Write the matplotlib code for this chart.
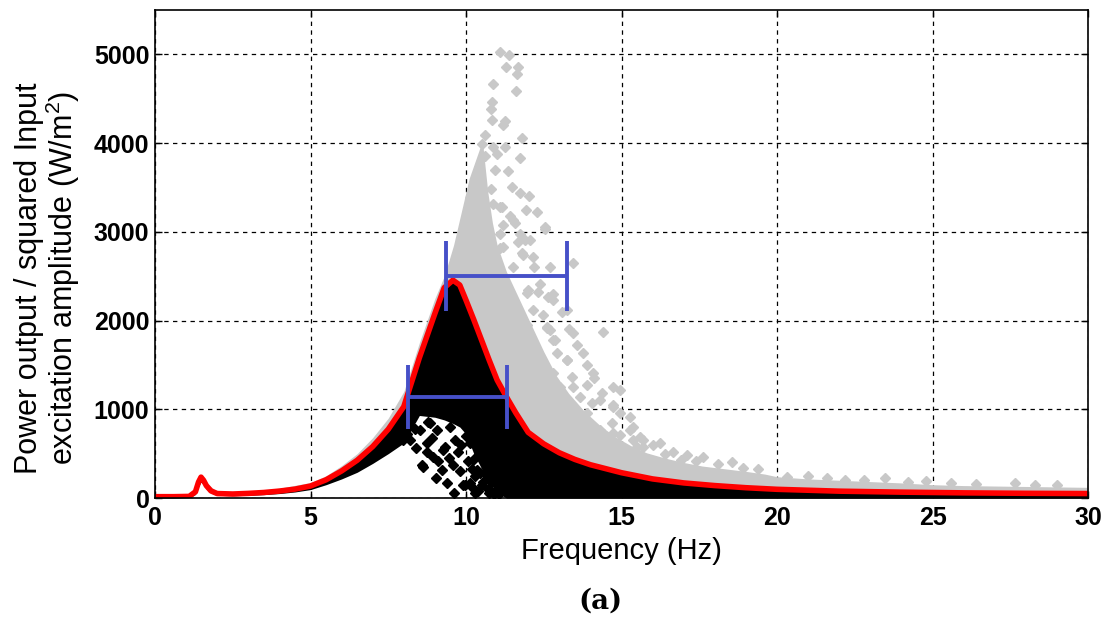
import matplotlib
matplotlib.use("Agg")
import matplotlib.pyplot as plt

# ---- measured response (red curve) ----
resp_freq = [0, 0.6, 1.1, 1.3, 1.4, 1.48, 1.56, 1.65, 1.8, 2.0, 2.5, 3, 3.5, 4, 4.5, 5,
             5.5, 6, 6.5, 7, 7.5, 8, 8.5, 9, 9.3, 9.58, 9.8, 10, 10.25, 10.5, 10.75, 11,
             11.3, 11.6, 12, 12.5, 13, 13.5, 14, 15, 16, 17, 18, 19, 20, 22, 24, 26, 28, 30]
resp_power = [15, 15, 18, 70, 180, 235, 200, 140, 80, 50, 45, 52, 62, 78, 100, 135,
              205, 305, 425, 580, 775, 1030, 1580, 2080, 2370, 2455, 2400, 2230, 2010, 1780, 1550, 1330,
              1140, 960, 740, 610, 510, 435, 375, 285, 215, 170, 140, 116, 98, 77, 66, 58, 53, 50]
# lower edge of the dense black cloud, on the same frequency grid
black_floor = [0, 0, 5, 40, 130, 180, 150, 100, 55, 30, 25, 30, 38, 50, 68, 95,
               150, 215, 290, 390, 500, 620, 930, 910, 880, 840, 800, 720, 500, 330, 180, 60,
               0, 0, 0, 0, 0, 0, 0, 0, 0, 0, 0, 0, 0, 0, 0, 0, 0, 0]

# ---- dense grey cloud envelope ----
gray_band_freq = [0, 1.2, 1.4, 1.5, 1.65, 2, 3, 4, 5, 5.5, 6, 6.5, 7, 7.5, 8, 8.5, 9, 9.3, 9.6, 9.9,
                  10.1, 10.3, 10.45, 10.55, 10.7, 10.85, 11.0, 11.3, 11.7, 12.1, 12.5, 12.9, 13.3, 13.8,
                  14.3, 14.8, 15.3, 15.8, 16.4, 17, 17.6, 18.3, 19, 19.6, 20, 21, 22, 23, 24, 25, 26,
                  27, 28, 29, 30]
gray_band_top = [25, 30, 230, 270, 170, 70, 75, 110, 175, 250, 365, 500, 680, 900, 1200, 1750, 2250,
                 2500, 2850, 3300, 3600, 3800, 3950, 3950, 3450, 3100, 2850, 2550, 2250, 1950, 1650,
                 1380, 1180, 980, 820, 690, 590, 510, 450, 400, 360, 330, 300, 270, 240, 215, 200,
                 185, 170, 150, 140, 135, 130, 125, 120]
gray_band_bottom = [0, 0, 150, 180, 120, 40, 45, 70, 120, 190, 280, 400, 550, 740, 980, 1450, 1900,
                    2000, 2000, 1900, 1800, 1700, 1600, 1500, 1400, 1300, 1200, 0, 0, 0, 0, 0, 0, 0,
                    0, 0, 0, 0, 0, 0, 0, 0, 0, 0, 0, 0, 0, 0, 0, 0, 0, 0, 0, 0, 0]

# ---- scattered grey samples ----
gray_pts_freq = [11.09, 11.38, 11.29, 11.68, 11.65, 10.88, 11.61, 10.85, 10.79, 10.83, 11.25, 11.2,
                 10.61, 11.79, 10.5, 10.88, 11.25, 10.61, 11.01, 11.74, 10.43, 10.93, 11.36, 10.34,
                 10.79, 11.47, 11.74, 12.04, 10.88, 11.15, 11.93, 12.27, 11.41, 11.58, 11.2, 12.54,
                 10.56, 11.09, 11.68, 11.9, 10.54, 11.79, 11.09, 13.45, 12.54, 11.84, 12.0, 12.33,
                 12.65, 12.49, 11.63, 11.95, 12.59, 12.7, 12.86, 12.0, 13.24, 13.56, 14.42, 13.4,
                 13.88, 12.92, 12.38, 13.02, 13.67, 14.36, 14.04, 14.74, 14.95, 15.27, 15.27, 15.59,
                 16.02, 16.24, 14.68, 14.74, 15.7, 14.95, 15.38, 16.67, 17.1, 17.63, 18.54, 20.31,
                 22.19, 23.47, 24.2, 24.8, 27.65, 29.0, 12.2, 13.1, 12.8, 13.9, 14.1, 13.3,
                 10.50, 11.09, 11.52, 11.74, 12.06, 10.66, 11.2, 12.16, 12.7, 11.52, 12.38, 11.95,
                 12.81, 13.24, 11.31, 12.16, 12.59, 13.45, 11.74, 12.81, 13.77, 12.16, 13.24, 14.09,
                 14.74, 12.81, 13.45, 14.31, 14.95, 15.38, 13.88, 14.74, 15.49, 14.31, 15.17, 15.7,
                 16.4, 16.9, 17.4, 18.1, 18.9, 19.4, 21.0, 21.6, 22.8, 25.6, 26.4, 28.3]
gray_pts_power = [5026, 4996, 4857, 4857, 4775, 4670, 4587, 4463, 4381, 4264, 4249, 4200,
                  4088, 4062, 3994, 3956, 3956, 3851, 3874, 3832, 3731, 3701, 3686, 3618,
                  3488, 3506, 3443, 3401, 3318, 3280, 3243, 3224, 3176, 3100, 3074, 3037,
                  3018, 2981, 2887, 2913, 2898, 2756, 2812, 2643, 3056, 2736, 2342, 2323,
                  2267, 2061, 2136, 1948, 1911, 1892, 1779, 1723, 1554, 1723, 1873, 1366,
                  1273, 1629, 1479, 1253, 1141, 1179, 1066, 1047, 1216, 916, 766, 690,
                  597, 616, 841, 1028, 578, 709, 653, 521, 484, 465, 409, 240,
                  203, 222, 184, 191, 166, 146, 2600, 2100, 2300, 1500, 1350, 1900,
                  3206, 3281, 3131, 2981, 2905, 2943, 2830, 2718, 2605, 2605, 2417, 2305,
                  2230, 2117, 2230, 2117, 1929, 1854, 1929, 1779, 1629, 1667, 1554, 1404,
                  1254, 1404, 1254, 1104, 954, 803, 954, 728, 578, 766, 428, 653,
                  500, 430, 420, 380, 340, 330, 250, 230, 200, 170, 160, 150]

# ---- scattered black samples ----
black_pts_freq = [8.79, 8.52, 9.06, 8.9, 8.74, 9.32, 9.65, 9.75, 8.95, 8.63, 9.22, 9.59, 9.38, 9.97,
                  10.13, 10.45, 10.24, 10.67, 10.61, 10.13, 11.31, 11.63, 10.99, 8.2, 8.84, 8.57,
                  9.91, 10.18, 8.74, 9.27, 7.98, 9.5, 10.0, 10.4, 10.8, 11.1, 9.1, 8.4, 10.55, 9.8,
                  9.05, 10.3, 9.6, 10.05, 9.85, 10.35, 9.45, 10.7, 10.9, 8.35, 8.1,
                  10.3, 10.5, 10.7, 10.85, 11.0, 11.2, 10.6, 10.9, 10.4, 10.75, 11.05, 10.2]
black_pts_power = [859, 766, 766, 672, 616, 578, 653, 521, 465, 352, 315, 372, 166, 146,
                   166, 278, 428, 391, 578, 616, 71, 166, 203, 653, 841, 372,
                   146, 128, 521, 541, 653, 800, 700, 480, 300, 120, 420, 560, 180, 300,
                   230, 60, 60, 420, 600, 320, 450, 100, 50, 780, 720,
                   250, 150, 250, 180, 100, 150, 420, 380, 80, 60, 40, 330]

# ---- bandwidth markers ----
bar_level = [2500, 1134]
bar_left = [9.35, 8.14]
bar_right = [13.25, 11.31]
bar_capsize = [25, 23]

x_ticks = [0, 5, 10, 15, 20, 25, 30]
y_ticks = [0, 1000, 2000, 3000, 4000, 5000]

plt.rcParams["font.family"] = ["Liberation Sans", "DejaVu Sans"]
plt.rcParams["mathtext.default"] = "regular"

fig = plt.figure(figsize=(11.07, 6.21), dpi=100)
ax = fig.add_axes([155 / 1107, 123 / 621, 933 / 1107, 488 / 621])

gray_c = "#c8c8c8"
ax.fill_between(gray_band_freq, gray_band_bottom, gray_band_top, color=gray_c, lw=0, zorder=2)
ax.plot(gray_pts_freq, gray_pts_power, ls="none", marker="D", ms=5.2, mfc=gray_c, mec=gray_c, zorder=2.1)

ax.fill_between(resp_freq, black_floor, resp_power, color="black", lw=0, zorder=3)
ax.plot(black_pts_freq, black_pts_power, ls="none", marker="D", ms=5.6, mfc="black", mec="black", zorder=3.1)

ax.plot(resp_freq, resp_power, color="#ff0000", lw=4, solid_joinstyle="round", zorder=4)

blue = "#4650c8"
for lvl, lo, hi, cs in zip(bar_level, bar_left, bar_right, bar_capsize):
    mid = (lo + hi) / 2
    ax.errorbar([mid], [lvl], xerr=[[mid - lo], [hi - mid]], fmt="none", ecolor=blue,
                elinewidth=2.8, capsize=cs, capthick=2.8, zorder=5)

ax.set_xlim(0, 30)
ax.set_ylim(0, 5500)
ax.set_xticks(x_ticks)
ax.set_yticks(y_ticks)
ax.set_xticklabels([str(v) for v in x_ticks], fontweight="bold", fontsize=18)
ax.set_yticklabels([str(v) for v in y_ticks], fontweight="bold", fontsize=18)
ax.tick_params(direction="in", top=True, right=True, length=5, width=1, pad=6)
ax.tick_params(axis="y", pad=4)
ax.grid(True, color="black", ls=(0, (3.5, 3.5)), lw=0.9, zorder=0)
ax.set_axisbelow(True)
for s in ax.spines.values():
    s.set_linewidth(1.2)
    s.set_zorder(6)

fig.text(0.5615, 1 - 551 / 621, "Frequency (Hz)", ha="center", va="center", fontsize=21)
fig.text(48 / 1107, 1 - 278 / 621, "Power output / squared Input\nexcitation amplitude (W/m$^2$)",
         rotation=90, ha="center", va="center", fontsize=22, multialignment="center",
         linespacing=1.0)
fig.text(600 / 1107, 1 - 601 / 621, "(a)", ha="center", va="center", fontsize=20,
         fontweight="bold", family="DejaVu Serif")

fig.savefig("out.png", dpi=100)
